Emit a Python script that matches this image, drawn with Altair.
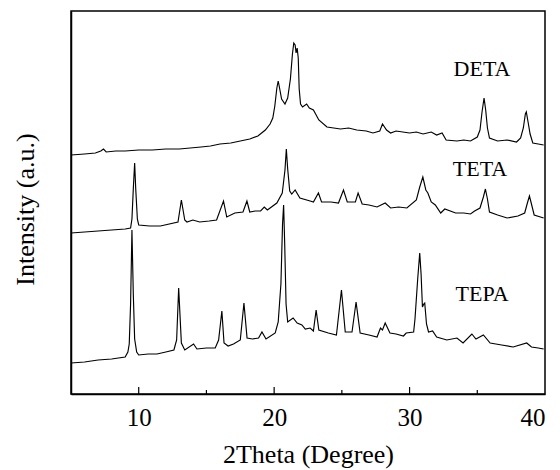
import altair as alt
import pandas as pd

# ---- data (2Theta in degrees, intensity in arbitrary units) ----
deta_x = [5.0, 6.0, 6.8, 7.2, 7.4, 7.6, 8.3, 9.0, 10.0, 11.0, 12.0, 13.0, 13.8, 14.6, 15.3, 16.0, 16.8,
          17.5, 18.2, 18.8, 19.35, 19.7, 19.9, 20.05, 20.2, 20.3, 20.4, 20.55, 20.8, 21.0, 21.2, 21.35,
          21.45, 21.55, 21.62, 21.7, 21.78, 21.85, 21.95, 22.1, 22.4, 22.6, 22.9, 23.3, 23.9, 24.9,
          25.5, 26.1, 26.8, 27.3, 27.8, 28.0, 28.3, 28.6, 29.0, 29.5, 30.0, 30.5, 31.0, 31.3, 31.6,
          32.0, 32.4, 32.7, 33.5, 34.0, 34.5, 35.0, 35.2, 35.35, 35.5, 35.62, 35.75, 35.9, 36.5, 37.2,
          37.9, 38.2, 38.4, 38.55, 38.62, 38.75, 38.9, 39.1, 39.5, 39.9]
deta_y = [239, 240, 241, 243, 245, 242, 243, 243, 244, 244, 245, 245, 246, 247, 248, 250, 251,
          253, 255, 258, 264, 270, 276, 288, 306, 313, 306, 295, 290, 296, 315, 340,
          351, 349, 341, 346, 336, 305, 290, 287, 290, 286, 284, 274, 267, 265,
          266, 264, 263, 261, 263, 270, 264, 261, 263, 262, 261, 262, 260, 261, 262,
          259, 261, 254, 253, 254, 253, 257, 264, 282, 296, 284, 266, 256, 253, 254,
          252, 256, 266, 280, 282, 272, 260, 251, 250, 249]

teta_x = [5.0, 6.0, 7.0, 8.0, 9.0, 9.4, 9.5, 9.6, 9.7, 9.78, 9.9, 10.0, 10.8, 11.6, 12.9, 13.15, 13.4,
          13.56, 14.0, 14.5, 15.2, 15.75, 16.26, 16.5, 17.1, 17.7, 17.99, 18.2, 18.6, 19.0, 19.27,
          19.5, 20.2, 20.6, 20.8, 20.9, 21.0, 21.15, 21.3, 21.55, 21.9, 22.66, 22.9, 23.27, 23.5,
          24.2, 24.75, 25.12, 25.4, 26.0, 26.2, 26.5, 27.0, 27.6, 28.2, 28.6, 29.2, 29.8, 30.5,
          30.75, 30.98, 31.2, 31.35, 31.6, 31.9, 32.3, 32.6, 33.4, 34.0, 34.5, 34.8, 35.2, 35.45,
          35.6, 35.75, 35.9, 36.5, 37.2, 38.0, 38.5, 38.7, 38.85, 39.0, 39.2, 39.9]
teta_y = [161, 162, 163, 164, 165, 166, 175, 205, 231, 205, 175, 169, 168, 168, 172, 194, 174,
          172, 174, 172, 173, 174, 193, 177, 181, 182, 193, 182, 183, 183, 187,
          184, 191, 201, 224, 245, 225, 203, 200, 204, 196, 193, 192, 201, 192,
          192, 191, 204, 192, 192, 201, 190, 189, 187, 191, 186, 187, 186, 194,
          207, 217, 204, 201, 192, 189, 181, 185, 181, 181, 180, 183, 186, 197,
          205, 195, 182, 179, 176, 178, 181, 191, 198, 190, 179, 176]

tepa_x = [5.0, 6.0, 7.0, 8.0, 9.0, 9.2, 9.3, 9.4, 9.5, 9.6, 9.7, 9.85, 10.0, 10.7, 11.35, 12.0, 12.6,
          12.8, 12.95, 13.15, 13.4, 14.05, 14.3, 15.0, 15.65, 15.9, 16.14, 16.3, 16.6, 17.0, 17.5,
          17.77, 18.0, 18.4, 18.85, 19.1, 19.4, 20.08, 20.3, 20.5, 20.62, 20.7, 20.78, 20.88, 21.0,
          21.4, 21.7, 22.05, 22.3, 22.66, 22.9, 23.1, 23.3, 24.0, 24.6, 24.97, 25.25, 25.75, 26.05,
          26.35, 27.0, 27.6, 27.85, 28.0, 28.2, 28.55, 29.0, 29.55, 29.75, 30.3, 30.4, 30.6, 30.75,
          30.85, 30.95, 31.05, 31.12, 31.25, 31.4, 31.7, 32.0, 32.75, 33.5, 33.95, 34.6, 34.9, 35.45,
          35.95, 36.8, 37.65, 38.65, 39.0, 39.5, 39.9]
tepa_y = [31, 32, 34, 35, 37, 42, 50, 90, 164, 100, 55, 42, 39, 40, 40, 42, 44,
          54, 106, 51, 44, 50, 45, 46, 46, 54, 83, 51, 48, 50, 54,
          91, 56, 55, 56, 62, 55, 61, 72, 110, 170, 189, 150, 90, 72,
          76, 71, 69, 65, 66, 63, 84, 64, 61, 59, 104, 62, 62, 92,
          61, 59, 57, 66, 64, 71, 61, 60, 58, 61, 62, 75, 115, 141,
          120, 87, 90, 91, 70, 62, 63, 57, 54, 56, 51, 60, 55, 59,
          51, 49, 47, 51, 47, 46, 45]

label_names = ["DETA", "TETA", "TEPA"]
label_x = [35.35, 35.2, 35.35]
label_y = [325, 225, 100]

major_ticks = [10, 20, 30, 40]
minor_ticks = [15, 25, 35]

# ---- tables ----
rows = []
for name, xs, ys in [("DETA", deta_x, deta_y), ("TETA", teta_x, teta_y), ("TEPA", tepa_x, tepa_y)]:
    for xv, yv in zip(xs, ys):
        rows.append({"series": name, "x": xv, "y": yv})
df = pd.DataFrame(rows)
labels_df = pd.DataFrame({"name": label_names, "x": label_x, "y": label_y})
major_df = pd.DataFrame({"t": major_ticks[:-1]})
minor_df = pd.DataFrame({"t": minor_ticks})

FONT = "Liberation Serif"
xscale = alt.Scale(domain=[5, 40], nice=False, zero=False)
yscale = alt.Scale(domain=[0, 383], nice=False, zero=False)

lines = alt.Chart(df).mark_line(color="black", strokeWidth=1.15).encode(
    x=alt.X("x:Q", scale=xscale,
            axis=alt.Axis(title="2Theta (Degree)", values=major_ticks, tickSize=0,
                          labelFont=FONT, labelFontSize=25, labelColor="black", labelPadding=11,
                          titleFont=FONT, titleFontSize=26, titleFontWeight="normal",
                          titleColor="black", titleBaseline="alphabetic", titleY=68,
                          grid=False, domainColor="black", domainWidth=1.5)),
    y=alt.Y("y:Q", scale=yscale,
            axis=alt.Axis(title="Intensity (a.u.)", labels=False, ticks=False, grid=False,
                          titleFont=FONT, titleFontSize=26, titleFontWeight="normal",
                          titleColor="black", titlePadding=33, titleY=198,
                          domainColor="black", domainWidth=1.5)),
    detail="series:N",
)

texts = alt.Chart(labels_df).mark_text(font=FONT, fontSize=22, color="black").encode(
    x=alt.X("x:Q", scale=xscale), y=alt.Y("y:Q", scale=yscale), text="name:N"
)

major = alt.Chart(major_df).mark_rule(color="black", strokeWidth=1.2).encode(
    x=alt.X("t:Q", scale=xscale), y=alt.value(383), y2=alt.value(376)
)
minor = alt.Chart(minor_df).mark_rule(color="black", strokeWidth=1.2).encode(
    x=alt.X("t:Q", scale=xscale), y=alt.value(383), y2=alt.value(379)
)

chart = alt.layer(lines, texts, major, minor).properties(
    width=474, height=383,
    autosize=alt.AutoSizeParams(type="none"),
    padding={"left": 71, "top": 11, "right": 15, "bottom": 76},
    background="white",
).configure_view(stroke="black", strokeWidth=1.5)

chart.save("out.html", embed_options={"renderer": "svg", "actions": False})
